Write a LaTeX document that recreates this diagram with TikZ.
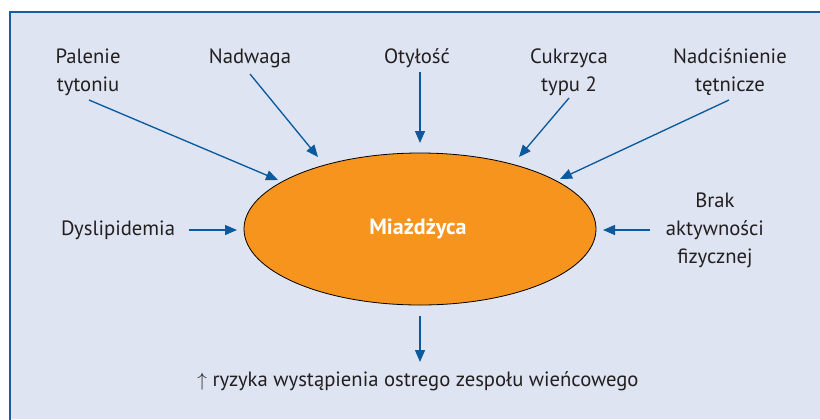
\documentclass[tikz,border=0pt]{standalone}
\usepackage{fontspec}
\setmainfont{PT Sans}
\usetikzlibrary{arrows.meta,shapes.geometric}
\definecolor{bgc}{HTML}{DEE4F1}
\definecolor{framec}{HTML}{1A5CA8}
\definecolor{arrc}{HTML}{0B5A9E}
\definecolor{orangec}{HTML}{F7941D}
\definecolor{txtc}{HTML}{231F20}
\tikzset{
  lbl/.style={font=\fontsize{15.5}{21}\selectfont, text=txtc, align=center, inner sep=0pt, anchor=base},
  arr/.style={draw=arrc, line width=1pt, -{Triangle[length=9pt,width=7.5pt]}},
}
\begin{document}
\begin{tikzpicture}[x=0.75pt,y=-0.75pt]
\useasboundingbox (0,0) rectangle (820,419);
\fill[bgc] (10,12) rectangle (820,419);
\draw[framec, line width=1.5pt] (10,420) -- (10,12) -- (821,12);
\node[draw=black, line width=0.6pt, fill=orangec, ellipse, minimum width=352*0.75pt, minimum height=152*0.75pt, inner sep=0pt] (e) at (420,229) {};
\node[font=\fontsize{16.5}{18}\selectfont\bfseries, text=white, inner sep=0pt] (m) at (418,229) {Miażdżyca};
\node[lbl] (p) at (88,91) {Palenie\\tytoniu};
\node[lbl] (n) at (250,63) {Nadwaga};
\node[lbl] (o) at (417,63) {Otyłość};
\node[lbl] (c) at (569,91) {Cukrzyca\\typu 2};
\node[lbl] (h) at (730,91) {Nadciśnienie\\tętnicze};
\node[lbl, anchor=center] (d) at (118,230) {Dyslipidemia};
\node[lbl, anchor=center] (b) at (715,230) {Brak\\aktywności\\fizycznej};
\node[lbl] (r) at (418,386) {$\uparrow$ ryzyka wystąpienia ostrego zespołu wieńcowego};
\coordinate (p1) at (89,100); \coordinate (p2) at (278,180);
\coordinate (n1) at (250,74); \coordinate (n2) at (318,157);
\coordinate (o1) at (420,72); \coordinate (o2) at (420,143);
\coordinate (c1) at (569,98); \coordinate (c2) at (519,157);
\coordinate (h1) at (729,100); \coordinate (h2) at (560,179);
\coordinate (d1) at (189,230); \coordinate (d2) at (237,230);
\coordinate (b1) at (650,230); \coordinate (b2) at (603,230);
\coordinate (r1) at (420,316); \coordinate (r2) at (420,362);
\draw[arr] (p1) -- (p2);
\draw[arr] (n1) -- (n2);
\draw[arr] (o1) -- (o2);
\draw[arr] (c1) -- (c2);
\draw[arr] (h1) -- (h2);
\draw[arr] (d1) -- (d2);
\draw[arr] (b1) -- (b2);
\draw[arr] (r1) -- (r2);
\end{tikzpicture}
\end{document}
